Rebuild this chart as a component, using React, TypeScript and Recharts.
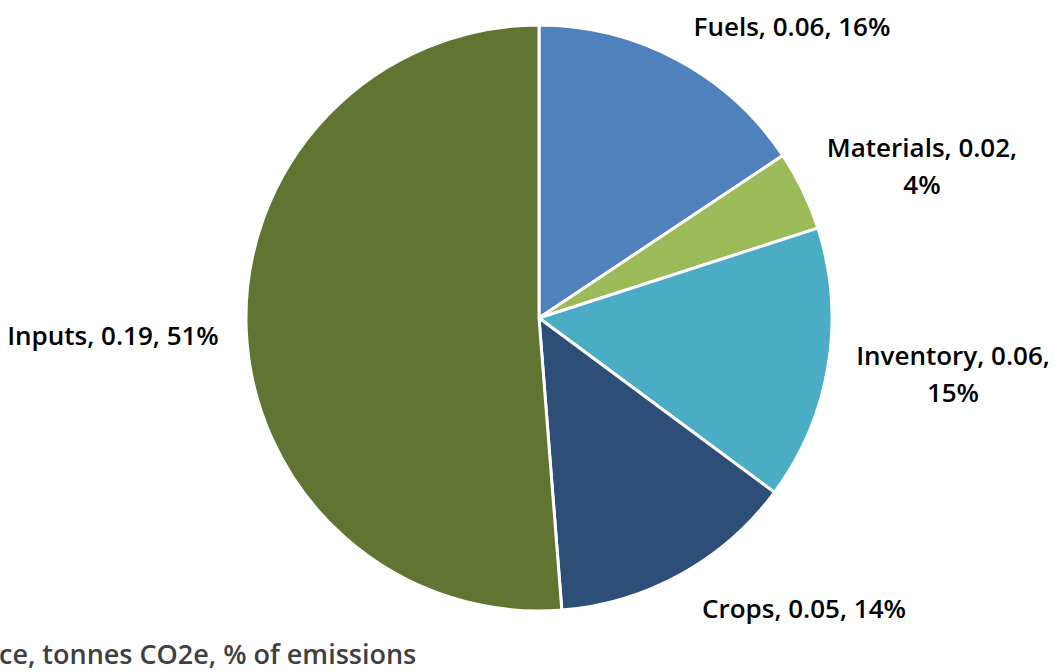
import React from "react";
import { PieChart, Pie, Cell } from "recharts";

const categories = ["Fuels", "Materials", "Inventory", "Crops", "Inputs"];
const values = [0.058, 0.0163, 0.056, 0.0505, 0.19];
const valueLabels = ["0.06", "0.02", "0.06", "0.05", "0.19"];
const percentLabels = ["16%", "4%", "15%", "14%", "51%"];
const colors = ["#4F81BD", "#9BBB59", "#4BACC6", "#2D4E77", "#617431"];

// label layout: center x, first baseline, lines split
const labelLayout = [
  { x: 792, y: 36, split: false },
  { x: 922, y: 157, split: true },
  { x: 953, y: 365, split: true },
  { x: 804, y: 618, split: false },
  { x: 113, y: 345, split: false },
];

const data = categories.map((c, i) => ({ name: c, value: values[i] }));

const FONT = "'Open Sans', 'Noto Sans', sans-serif";
const LABEL_SIZE = 26;

const renderLabel = (props: any) => {
  const i = props.index;
  const l = labelLayout[i];
  const line1 = `${categories[i]}, ${valueLabels[i]},`;
  const full = `${categories[i]}, ${valueLabels[i]}, ${percentLabels[i]}`;
  if (!l.split) {
    return (
      <text x={l.x} y={l.y} textAnchor="middle" fill="#000" fontSize={LABEL_SIZE} fontWeight={600} fontFamily={FONT}>
        {full}
      </text>
    );
  }
  return (
    <text x={l.x} y={l.y} textAnchor="middle" fill="#000" fontSize={LABEL_SIZE} fontWeight={600} fontFamily={FONT}>
      <tspan x={l.x} y={l.y}>{line1}</tspan>
      <tspan x={l.x} y={l.y + 37}>{percentLabels[i]}</tspan>
    </text>
  );
};

export default function App() {
  return (
    <div style={{ position: "absolute", left: 0, top: 0, width: 1054, height: 672, background: "#fff" }}>
      <PieChart width={1054} height={672} margin={{ top: 0, right: 0, bottom: 0, left: 0 }}>
        <Pie
          data={data}
          dataKey="value"
          nameKey="name"
          cx={539}
          cy={318}
          outerRadius={293}
          startAngle={90}
          endAngle={-270}
          stroke="#fff"
          strokeWidth={3}
          isAnimationActive={false}
          label={renderLabel}
          labelLine={false}
        >
          {data.map((d, i) => (
            <Cell key={d.name} fill={colors[i]} />
          ))}
        </Pie>
        <text x={-1} y={664} fill="#404040" fontSize={27} fontWeight={600} fontFamily={FONT}>
          ce, tonnes CO2e, % of emissions
        </text>
      </PieChart>
    </div>
  );
}
